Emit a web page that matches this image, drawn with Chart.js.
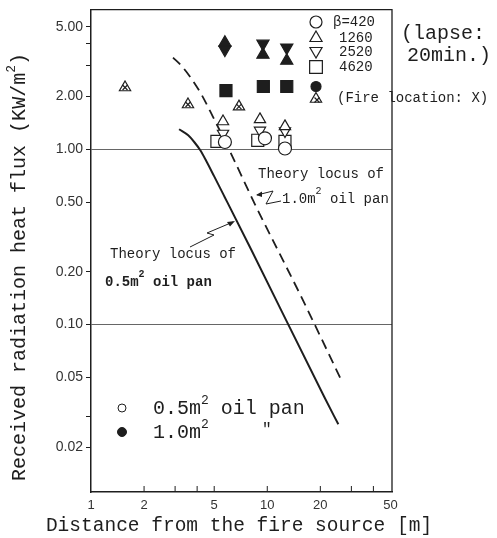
<!DOCTYPE html>
<html>
<head>
<meta charset="utf-8">
<script src="https://cdn.jsdelivr.net/npm/chart.js@4.4.0/dist/chart.umd.min.js"></script>
<style>
  html,body{margin:0;padding:0;background:#fff;}
  canvas{display:block;}
</style>
</head>
<body>
<canvas id="grafico" width="497" height="538"></canvas>
<script>
// distance [m] vs received flux [kW/m2]
const xTicks  = [1, 2, 3, 4, 5, 10, 20, 30, 40, 50];
const xLabels = ['1', '2', '', '', '5', '10', '20', '', '', '50'];
const yTicks  = [0.02, 0.03, 0.05, 0.1, 0.2, 0.5, 1, 2, 3, 4, 5];
const yLabels = ['0.02', '', '0.05', '0.10', '0.20', '0.50', '1.00', '2.00', '', '', '5.00'];

const theory05 = [[3.16,1.30],[3.56,1.20],[3.85,1.10],[4.16,0.99],[4.5,0.86],[5.0,0.70],[5.7,0.54],[8.1,0.268],[21.1,0.0385],[25.3,0.027]];
const theory10 = [[2.92,3.33],[3.28,2.97],[3.74,2.50],[4.26,2.03],[4.92,1.53],[6.14,0.974],[8.5,0.487],[15.7,0.142],[26.1,0.049]];

// 0.5 m2 pan (open marks)
const circ05  = [[5.75,1.10],[9.7,1.155],[12.6,1.01]];
const up05    = [[5.61,1.44],[9.09,1.48],[12.6,1.35]];
const down05  = [[5.61,1.23],[9.09,1.28],[12.6,1.27]];
const sq05    = [[5.18,1.11],[8.83,1.125],[12.6,1.11]];
// 1.0 m2 pan (filled marks)
const up10    = [[5.75,4.05],[9.45,3.46],[12.9,3.2]];
const down10  = [[5.75,3.70],[9.45,4.0],[12.9,3.8]];
const sq10    = [[5.83,2.16],[9.5,2.28],[12.9,2.28]];
const circ10  = [[18.9,2.28]];
// fire location marks
const fireLoc = [[1.56,2.25],[3.55,1.80],[6.91,1.75]];

const toXY = arr => arr.map(p => ({ x: p[0], y: p[1] }));
const INK = '#1e1e1e';
const MONO = "'Liberation Mono', monospace";

function marks(data, style, r, filled, rot) {
  return {
    data: toXY(data), pointStyle: style, pointRadius: r, pointRotation: rot || 0,
    pointBackgroundColor: filled ? INK : '#fff', pointBorderColor: INK, pointBorderWidth: 1.2
  };
}

function textRun(ctx, parts, x, y, align) {
  let w = 0;
  parts.forEach(p => { ctx.font = p[1]; w += ctx.measureText(p[0]).width; });
  let cx = align === 'center' ? x - w / 2 : x;
  parts.forEach(p => {
    ctx.font = p[1];
    ctx.fillText(p[0], cx, y - (p[2] || 0));
    cx += ctx.measureText(p[0]).width;
  });
}

const deco = {
  id: 'deco',
  afterDraw(chart) {
    const { ctx, chartArea: a, scales: { x } } = chart;
    const H = Chart.helpers;
    ctx.save();
    ctx.strokeStyle = INK; ctx.lineWidth = 1.3;
    ctx.beginPath(); ctx.moveTo(a.left, a.top); ctx.lineTo(a.right, a.top); ctx.lineTo(a.right, a.bottom); ctx.stroke();

    // ticks on the x axis point inwards
    ctx.lineWidth = 1;
    xTicks.slice(1, -1).forEach(v => {
      const px = x.getPixelForValue(v);
      ctx.beginPath(); ctx.moveTo(px, a.bottom); ctx.lineTo(px, a.bottom - 6); ctx.stroke();
    });

    // legend, top right
    ctx.fillStyle = '#fff'; ctx.strokeStyle = INK; ctx.lineWidth = 1.2;
    H.drawPoint(ctx, { pointStyle: 'circle', radius: 6, borderWidth: 1.2 }, 316, 22);
    H.drawPoint(ctx, { pointStyle: 'triangle', radius: 7, borderWidth: 1.2 }, 316, 38);
    H.drawPoint(ctx, { pointStyle: 'triangle', radius: 7, rotation: 180, borderWidth: 1.2 }, 316, 51);
    H.drawPoint(ctx, { pointStyle: 'rect', radius: 9, borderWidth: 1.2 }, 316, 67);
    H.drawPoint(ctx, { pointStyle: 'triangle', radius: 6.5, borderWidth: 1.2 }, 316, 99);
    H.drawPoint(ctx, { pointStyle: 'crossRot', radius: 3.5, borderWidth: 1.2 }, 317, 100);
    ctx.fillStyle = INK; ctx.textBaseline = 'middle'; ctx.textAlign = 'left';
    ctx.font = '14px ' + MONO;
    ctx.fillText('β=420', 333, 22);
    ctx.fillText('1260', 339, 38);
    ctx.fillText('2520', 339, 52);
    ctx.fillText('4620', 339, 67);
    ctx.fillText('(Fire location: X)', 337, 98);

    ctx.font = '20px ' + MONO;
    ctx.fillText('(lapse:', 401, 34);
    ctx.fillText('20min.)', 407, 56);

    // curve labels
    const f14 = '14px ' + MONO, f10 = '10px ' + MONO;
    ctx.font = f14;
    ctx.fillText('Theory locus of', 258, 174);
    textRun(ctx, [['1.0m', f14], ['2', f10, 8], [' oil pan', f14]], 282, 199);
    ctx.fillText('Theory locus of', 110, 254);
    const b14 = 'bold 14px ' + MONO, b10 = 'bold 10px ' + MONO;
    textRun(ctx, [['0.5m', b14], ['2', b10, 8], [' oil pan', b14]], 105, 282);

    // zigzag pointers
    ctx.lineWidth = 1;
    ctx.beginPath();
    ctx.moveTo(281, 201); ctx.lineTo(266, 204); ctx.lineTo(273, 191); ctx.lineTo(257, 195);
    ctx.moveTo(190, 247); ctx.lineTo(214, 235); ctx.lineTo(207, 233); ctx.lineTo(233, 222);
    ctx.stroke();
    ctx.beginPath();
    ctx.moveTo(256, 195); ctx.lineTo(262, 191.5); ctx.lineTo(262, 197); ctx.closePath();
    ctx.moveTo(235, 221); ctx.lineTo(227, 222); ctx.lineTo(230, 226.5); ctx.closePath();
    ctx.fill();

    // pan size key, lower left
    ctx.fillStyle = '#fff';
    H.drawPoint(ctx, { pointStyle: 'circle', radius: 4, borderWidth: 1.2 }, 122, 408);
    ctx.fillStyle = INK;
    H.drawPoint(ctx, { pointStyle: 'circle', radius: 4.5, borderWidth: 1 }, 122, 432);
    const f20 = '20px ' + MONO, f13 = '13px ' + MONO;
    textRun(ctx, [['0.5m', f20], ['2', f13, 8], [' oil pan', f20]], 153, 409);
    textRun(ctx, [['1.0m', f20], ['2', f13, 8]], 153, 433);
    ctx.font = '16px ' + MONO;
    ctx.fillText('"', 262, 430);

    // axis titles
    textRun(ctx, [['Distance from the fire source [m]', '19.5px ' + MONO]], 239, 526, 'center');
    ctx.translate(20, 267);
    ctx.rotate(-Math.PI / 2);
    textRun(ctx, [['Received radiation heat flux (KW/m', '20px ' + MONO], ['2', '13px ' + MONO, 8], [')', '20px ' + MONO]], 0, 0, 'center');
    ctx.restore();
  }
};

new Chart(document.getElementById('grafico'), {
  type: 'scatter',
  data: {
    datasets: [
      marks(circ05, 'circle', 6.5, false),
      marks(up05, 'triangle', 6.5, false),
      marks(down05, 'triangle', 6.5, false, 180),
      marks(sq05, 'rect', 8.5, false),
      marks(up10, 'triangle', 7, true),
      marks(down10, 'triangle', 7, true, 180),
      marks(sq10, 'rect', 8.5, true),
      marks(circ10, 'circle', 5, true),
      // fire location: open triangle with a cross through it
      { data: toXY(fireLoc), pointStyle: 'crossRot', pointRadius: 3.5, pointBorderColor: INK, pointBorderWidth: 1.2 },
      marks(fireLoc, 'triangle', 6.5, false),
      { data: toXY(theory10), showLine: true, pointRadius: 0, borderColor: INK, borderWidth: 1.8,
        borderDash: [10, 6], cubicInterpolationMode: 'monotone' },
      { data: toXY(theory05), showLine: true, pointRadius: 0, borderColor: INK, borderWidth: 2,
        cubicInterpolationMode: 'monotone' }
    ]
  },
  options: {
    responsive: false,
    animation: false,
    layout: { padding: { top: 8, right: 105, left: 0, bottom: 0 } },
    plugins: { legend: { display: false }, tooltip: { enabled: false } },
    scales: {
      x: {
        type: 'logarithmic', min: 1, max: 51,
        afterFit: s => { s.height = 46; s.paddingLeft = 0; s.paddingRight = 0; },
        afterBuildTicks: s => { s.ticks = xTicks.map(v => ({ value: v })); },
        grid: { display: false, drawTicks: false },
        border: { color: INK, width: 1.5 },
        ticks: { autoSkip: false, maxRotation: 0, padding: 6, color: '#333',
          font: { family: 'Liberation Sans', size: 13 }, callback: (v, i) => xLabels[i] }
      },
      y: {
        type: 'logarithmic', min: 0.0111, max: 6.25,
        afterFit: s => { s.width = 91; s.paddingTop = 0; s.paddingBottom = 0; },
        afterBuildTicks: s => { s.ticks = yTicks.map(v => ({ value: v })); },
        grid: {
          color: c => (c.tick && (c.tick.value === 1 || c.tick.value === 0.1)) ? '#666' : 'rgba(0,0,0,0)',
          tickColor: INK, tickLength: 5, lineWidth: 1
        },
        border: { color: INK, width: 1.5 },
        ticks: { autoSkip: false, padding: 3, color: '#333',
          font: { family: 'Liberation Sans', size: 14 }, callback: (v, i) => yLabels[i] }
      }
    }
  },
  plugins: [deco]
});
</script>
</body>
</html>
